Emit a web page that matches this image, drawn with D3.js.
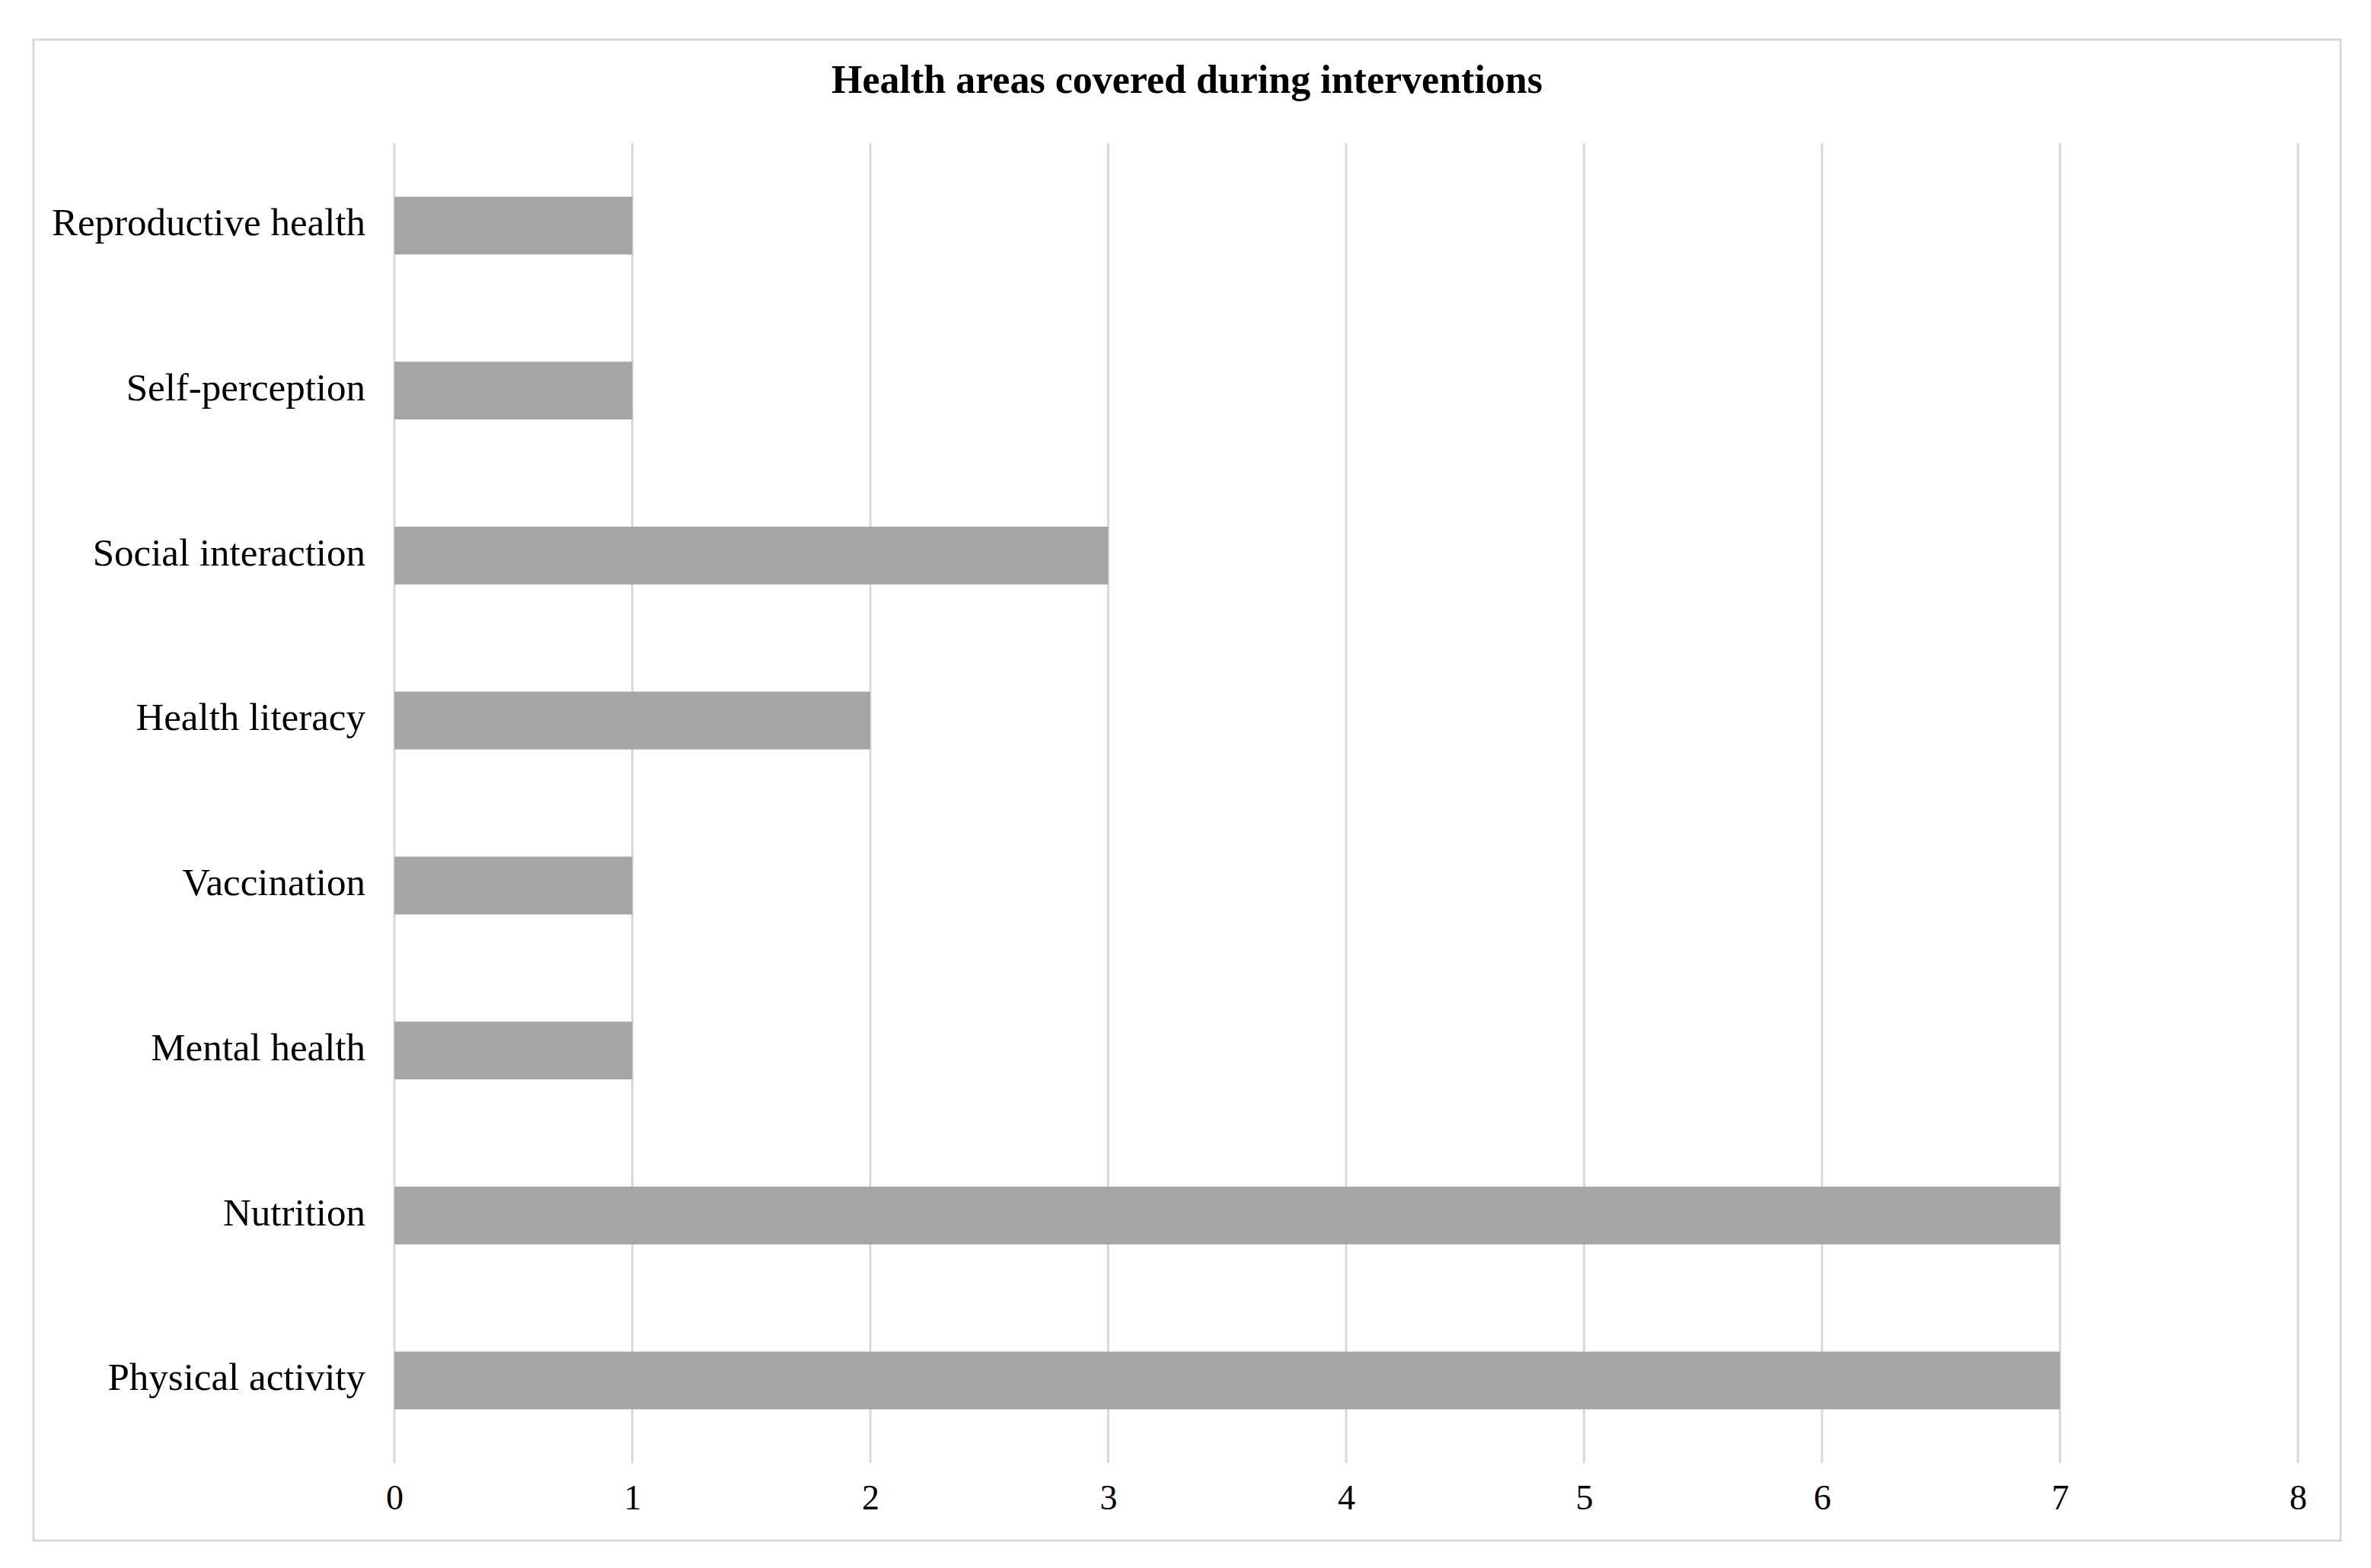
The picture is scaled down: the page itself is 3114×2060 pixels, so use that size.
<!DOCTYPE html>
<html>
<head>
<meta charset="utf-8">
<script src="https://cdn.jsdelivr.net/npm/d3@7"></script>
<style>
  body { margin: 0; background: #fff; }
  text { font-family: "Liberation Serif", "Times New Roman", serif; fill: #000; }
</style>
</head>
<body>
<svg id="chart"></svg>
<script>
// Data
const categories = ["Reproductive health", "Self-perception", "Social interaction", "Health literacy",
                    "Vaccination", "Mental health", "Nutrition", "Physical activity"];
const counts = [1, 1, 3, 2, 1, 1, 7, 7];
const xTicks = [0, 1, 2, 3, 4, 5, 6, 7, 8];
const title = "Health areas covered during interventions";

const W = 3114, H = 2060;
const margin = { top: 188, right: 96, bottom: 138, left: 518 };
const width = W - margin.left - margin.right;
const height = H - margin.top - margin.bottom;

const svg = d3.select("#chart")
    .attr("width", W)
    .attr("height", H);

// Outer frame
svg.append("rect")
    .attr("x", 44).attr("y", 52)
    .attr("width", 3030).attr("height", 1972)
    .attr("fill", "#fff")
    .attr("stroke", "#d9d9d9")
    .attr("stroke-width", 3);

// Title
svg.append("text")
    .attr("x", 1559)
    .attr("y", 122)
    .attr("text-anchor", "middle")
    .attr("font-size", 52)
    .attr("font-weight", "bold")
    .text(title);

const g = svg.append("g")
    .attr("transform", "translate(" + margin.left + "," + margin.top + ")");

// Scales
const x = d3.scaleLinear()
    .domain([0, 8])
    .range([0, width]);

const y = d3.scaleBand()
    .domain(categories)
    .range([0, height])
    .paddingInner(0.65)
    .paddingOuter(0.325);

// Gridlines
g.append("g")
    .attr("class", "grid")
    .selectAll("line")
    .data(xTicks)
    .enter().append("line")
      .attr("x1", d => x(d))
      .attr("x2", d => x(d))
      .attr("y1", 0)
      .attr("y2", height)
      .attr("stroke", "#d9d9d9")
      .attr("stroke-width", 3);

// Bars
g.selectAll("rect.bar")
    .data(categories)
    .enter().append("rect")
      .attr("class", "bar")
      .attr("x", x(0))
      .attr("y", d => y(d))
      .attr("width", (d, i) => x(counts[i]) - x(0))
      .attr("height", y.bandwidth())
      .attr("fill", "#a5a5a5");

// X axis (labels only)
const xAxis = g.append("g")
    .attr("transform", "translate(0," + height + ")")
    .call(d3.axisBottom(x).tickValues(xTicks).tickFormat(d3.format("d")).tickSize(0).tickPadding(28));
xAxis.select(".domain").remove();
xAxis.selectAll("text")
    .attr("font-size", 46)
    .attr("font-family", "Liberation Serif, serif")
    .attr("fill", "#000");

// Y axis (labels only)
const yAxis = g.append("g")
    .call(d3.axisLeft(y).tickSize(0).tickPadding(38));
yAxis.select(".domain").remove();
yAxis.selectAll("text")
    .attr("font-size", 51)
    .attr("dy", "0.25em")
    .attr("font-family", "Liberation Serif, serif")
    .attr("fill", "#000");
</script>
</body>
</html>
